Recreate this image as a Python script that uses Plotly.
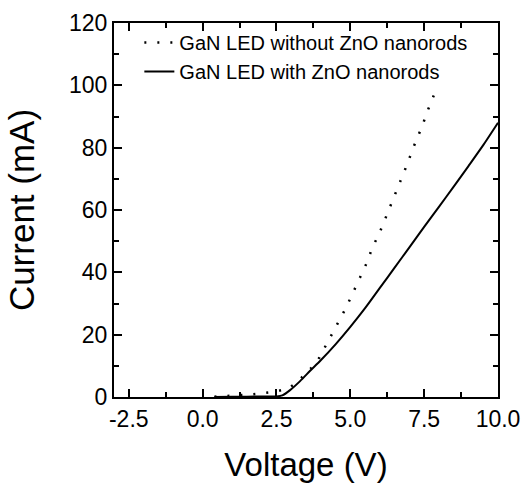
import plotly.graph_objects as go

# Dotted curve: GaN LED without ZnO nanorods
v_without = [0.4, 0.8, 1.2, 1.6, 2.0, 2.5, 2.9, 3.2, 3.5, 3.75, 3.95, 4.17, 4.40, 4.63,
             4.83, 5.03, 5.22, 5.41, 5.59, 5.74, 5.95, 6.12, 6.29, 6.46, 6.62, 6.79,
             6.96, 7.11, 7.28, 7.45, 7.59, 7.75, 7.92]
i_without = [0.1, 0.3, 0.5, 0.8, 1.2, 1.8, 2.7, 4.8, 7.6, 10.0, 12.6, 16.4, 20.3, 24.3,
             28.2, 32.2, 36.2, 39.9, 43.7, 47.9, 51.8, 55.7, 59.7, 63.5, 67.5, 71.4,
             75.5, 79.5, 83.3, 87.3, 91.2, 95.1, 99.0]

# Solid curve: GaN LED with ZnO nanorods
v_with = [0.4, 1.0, 1.5, 2.0, 2.5, 2.7, 2.96, 3.3, 3.64, 4.0, 4.5, 5.0, 5.5, 6.0,
          6.5, 7.0, 7.5, 8.0, 8.5, 9.0, 9.5, 10.0]
i_with = [0.0, 0.05, 0.1, 0.15, 0.2, 0.5, 2.2, 5.1, 8.4, 11.8, 16.9, 22.5, 28.5, 35.0,
          41.5, 48.0, 54.6, 61.0, 67.5, 74.1, 80.8, 88.0]

series_names = ["GaN LED without ZnO nanorods", "GaN LED with ZnO nanorods"]
x_ticks = [-2.5, 0.0, 2.5, 5.0, 7.5, 10.0]
x_tick_text = ["-2.5", "0.0", "2.5", "5.0", "7.5", "10.0"]
y_ticks = [0, 20, 40, 60, 80, 100, 120]

FONT = "Liberation Sans, Arial, sans-serif"

fig = go.Figure()
fig.add_trace(go.Scatter(x=v_without, y=i_without, mode="lines", name=series_names[0],
                         line=dict(color="black", width=2.5, dash="2px,11px")))
fig.add_trace(go.Scatter(x=v_with, y=i_with, mode="lines", name=series_names[1],
                         line=dict(color="black", width=2, shape="spline", smoothing=0.6)))

axis_common = dict(
    showline=True, linecolor="black", linewidth=2, mirror="ticks",
    ticks="inside", ticklen=8, tickwidth=2, tickcolor="black",
    showgrid=False, zeroline=False, automargin=False,
    tickfont=dict(family=FONT, size=23, color="black"),
)

fig.update_xaxes(
    range=[-3, 10], tickvals=x_ticks, ticktext=x_tick_text,
    minor=dict(ticks="inside", ticklen=5, tickwidth=2, tickcolor="black", dtick=1.25,
               tick0=-2.5, showgrid=False),
    title=dict(text="Voltage (V)", font=dict(family=FONT, size=33, color="black"), standoff=27),
    **axis_common,
)
fig.update_yaxes(
    range=[0, 120], tickvals=y_ticks,
    minor=dict(ticks="inside", ticklen=5, tickwidth=2, tickcolor="black", dtick=10,
               tick0=0, showgrid=False),
    title=dict(text="Current (mA)", font=dict(family=FONT, size=35, color="black"), standoff=24),
    **axis_common,
)

fig.update_layout(
    width=524, height=483,
    margin=dict(l=114, r=26, t=23, b=86),
    paper_bgcolor="white", plot_bgcolor="white",
    showlegend=True,
    legend=dict(x=0.066, y=1.0, xanchor="left", yanchor="top",
                bgcolor="rgba(0,0,0,0)", borderwidth=0,
                font=dict(family=FONT, size=20, color="black"),
                itemwidth=30, tracegroupgap=0),
)

fig.write_html("out.html")
